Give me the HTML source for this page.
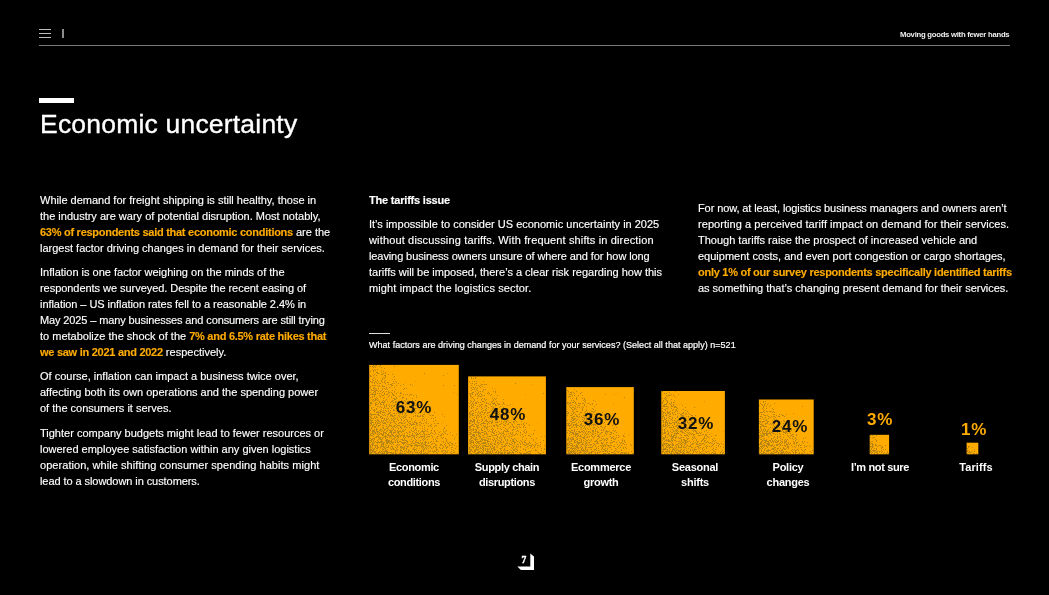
<!DOCTYPE html>
<html>
<head>
<meta charset="utf-8">
<style>
html,body{margin:0;padding:0;background:#000;}
body{width:1049px;height:595px;position:relative;overflow:hidden;font-family:"Liberation Sans",sans-serif;color:#fff;}
.abs{position:absolute;}
.runner,.title,.col,.q,.pct,.lab,svg{will-change:transform;}
.ham{position:absolute;left:39px;width:12px;height:1px;background:#bdbdbd;}
.hr{position:absolute;left:39px;top:45px;width:971px;height:1px;background:#7a7a7a;}
.runner{position:absolute;right:40px;top:28.8px;font-size:7.7px;font-weight:bold;letter-spacing:-0.25px;white-space:nowrap;line-height:12px;color:#f0f0f0;}
.tbar{position:absolute;left:39px;top:98px;width:35px;height:5px;background:#fff;}
.title{position:absolute;left:39.5px;top:106px;font-size:26.5px;letter-spacing:0.2px;-webkit-text-stroke:0.35px #fff;line-height:36px;white-space:nowrap;}
.col{position:absolute;-webkit-text-stroke:0.15px currentColor;font-size:11px;line-height:16px;white-space:nowrap;}
.col p{margin:0 0 8px 0;}
.o{color:#ffab00;font-weight:bold;letter-spacing:-0.27px;}
.h{font-weight:bold;letter-spacing:-0.2px;}
.q{position:absolute;left:369px;top:339px;font-size:9px;line-height:12px;white-space:nowrap;-webkit-text-stroke:0.2px #fff;letter-spacing:0.03px;}
.qline{position:absolute;left:369px;top:333px;width:21px;height:1px;background:#ddd;}
.bar{position:absolute;background:#ffab00;overflow:hidden;}
.pct{position:absolute;font-size:17px;font-weight:bold;letter-spacing:0.8px;line-height:20px;white-space:nowrap;text-align:center;width:80px;color:#111;}
.pcto{color:#ffab00;}
.lab{position:absolute;font-size:11px;font-weight:bold;letter-spacing:-0.4px;line-height:15px;white-space:nowrap;text-align:center;width:100px;}
</style>
</head>
<body>
<!-- header -->
<div class="ham" style="top:29px"></div>
<div class="ham" style="top:33px"></div>
<div class="ham" style="top:37px"></div>
<div class="abs" style="left:62px;top:28.6px;width:1.6px;height:9.4px;background:#8c8c8c"></div>
<div class="hr"></div>
<div class="runner">Moving goods with fewer hands</div>

<div class="tbar"></div>
<div class="title">Economic uncertainty</div>

<!-- left column -->
<div class="col" style="left:40px;top:192px">
<p>While demand for freight shipping is still healthy, those in<br>the industry are wary of potential disruption. Most notably,<br><span class="o">63% of respondents said that economic conditions</span> are the<br>largest factor driving changes in demand for their services.</p>
<p>Inflation is one factor weighing on the minds of the<br><span style="letter-spacing:-0.045px">respondents we surveyed. Despite the recent easing of</span><br><span style="letter-spacing:-0.06px">inflation – US inflation rates fell to a reasonable 2.4% in</span><br><span style="letter-spacing:-0.12px">May 2025 – many businesses and consumers are still trying</span><br>to metabolize the shock of the <span class="o">7% and 6.5% rate hikes that<br>we saw in 2021 and 2022</span> respectively.</p>
<p style="margin-bottom:9px">Of course, inflation can impact a business twice over,<br>affecting both its own operations and the spending power<br>of the consumers it serves.</p>
<p>Tighter company budgets might lead to fewer resources or<br>lowered employee satisfaction within any given logistics<br><span style="letter-spacing:0.055px">operation, while shifting consumer spending habits might</span><br><span style="letter-spacing:-0.07px">lead to a slowdown in customers.</span></p>
</div>

<!-- middle column -->
<div class="col" style="left:369px;top:192px">
<p class="h" style="margin-bottom:8px">The tariffs issue</p>
<p>It’s impossible to consider US economic uncertainty in 2025<br><span style="letter-spacing:0.15px">without discussing tariffs. With frequent shifts in direction</span><br><span style="letter-spacing:-0.1px">leaving business owners unsure of where and for how long</span><br>tariffs will be imposed, there’s a clear risk regarding how this<br><span style="letter-spacing:0.12px">might impact the logistics sector.</span></p>
</div>

<!-- right column -->
<div class="col" style="left:698px;top:200px">
<p><span style="letter-spacing:-0.1px">For now, at least, logistics business managers and owners aren’t</span><br><span style="letter-spacing:0.05px">reporting a perceived tariff impact on demand for their services.</span><br>Though tariffs raise the prospect of increased vehicle and<br>equipment costs, and even port congestion or cargo shortages,<br><span class="o">only 1% of our survey respondents specifically identified tariffs</span><br><span style="letter-spacing:-0.02px">as something that’s changing present demand for their services.</span></p>
</div>

<!-- chart -->
<div class="qline"></div>
<div class="q">What factors are driving changes in demand for your services? (Select all that apply) n=521</div>

<!--CHART-->
<svg class="abs" style="left:0;top:0" width="1049" height="595">
<defs><linearGradient id="g" x1="0" y1="1" x2="0.65" y2="0.35"><stop offset="0" stop-color="#000" stop-opacity="0.95"/><stop offset="0.4" stop-color="#000" stop-opacity="0.8"/><stop offset="0.77" stop-color="#000" stop-opacity="0.64"/><stop offset="1" stop-color="#000" stop-opacity="0.05"/></linearGradient>
<filter id="n" x="0" y="0" width="100%" height="100%" color-interpolation-filters="sRGB"><feTurbulence type="fractalNoise" baseFrequency="1.1" numOctaves="1" seed="7" result="t"/><feColorMatrix in="t" type="matrix" values="0 0 0 0 0  0 0 0 0 0  0 0 0 0 0  1 0 0 0 0" result="ta"/><feComposite in="ta" in2="SourceAlpha" operator="arithmetic" k1="0" k2="1" k3="0.3" k4="-0.76" result="c"/><feComponentTransfer in="c" result="th"><feFuncA type="linear" slope="40" intercept="0"/></feComponentTransfer><feFlood flood-color="#b78514"/><feComposite in2="th" operator="in"/></filter></defs>
<rect x="369.2" y="364.9" width="89.6" height="89.4" fill="#ffab00"/>
<rect x="370" y="365" width="88" height="89" fill="url(#g)" filter="url(#n)"/>
<rect x="468.1" y="376.4" width="77.8" height="77.9" fill="#ffab00"/>
<rect x="469" y="377" width="76" height="77" fill="url(#g)" filter="url(#n)"/>
<rect x="566.3" y="387.1" width="67.5" height="67.2" fill="#ffab00"/>
<rect x="567" y="388" width="66" height="66" fill="url(#g)" filter="url(#n)"/>
<rect x="661.3" y="391.0" width="63.6" height="63.3" fill="#ffab00"/>
<rect x="662" y="391" width="62" height="63" fill="url(#g)" filter="url(#n)"/>
<rect x="758.9" y="399.5" width="54.8" height="54.8" fill="#ffab00"/>
<rect x="759" y="400" width="54" height="54" fill="url(#g)" filter="url(#n)"/>
<rect x="869.7" y="434.8" width="19.4" height="19.5" fill="#ffab00"/>
<rect x="870" y="435" width="19" height="19" fill="url(#g)" filter="url(#n)"/>
<rect x="966.6" y="442.7" width="11.7" height="11.6" fill="#ffab00"/>
<rect x="967" y="443" width="11" height="11" fill="url(#g)" filter="url(#n)"/>
</svg>
<div class="pct" style="left:374.4px;top:397.5px">63%</div>
<div class="lab" style="left:364.0px;top:459.5px;letter-spacing:-0.35px">Economic<br>conditions</div>
<div class="pct" style="left:467.9px;top:404.5px">48%</div>
<div class="lab" style="left:457.0px;top:459.5px;letter-spacing:-0.35px">Supply chain<br>disruptions</div>
<div class="pct" style="left:561.9px;top:410.3px">36%</div>
<div class="lab" style="left:551.0px;top:459.5px;letter-spacing:-0.25px">Ecommerce<br>growth</div>
<div class="pct" style="left:655.8px;top:413.6px">32%</div>
<div class="lab" style="left:644.6px;top:459.5px;letter-spacing:-0.25px">Seasonal<br>shifts</div>
<div class="pct" style="left:750.0px;top:416.7px">24%</div>
<div class="lab" style="left:737.5px;top:459.5px;letter-spacing:-0.25px">Policy<br>changes</div>
<div class="pct pcto" style="left:840.1px;top:410.1px">3%</div>
<div class="lab" style="left:830.4px;top:459.5px;letter-spacing:-0.35px">I’m not sure</div>
<div class="pct pcto" style="left:933.9px;top:419.6px">1%</div>
<div class="lab" style="left:925.5px;top:459.5px;letter-spacing:0.1px">Tariffs</div>
<!--/CHART-->

<!-- page number -->
<svg class="abs" style="left:0;top:0" width="1049" height="595">
<polygon points="530.3,553.4 534,556.6 534,570 520.9,570 517.3,566.5 530.3,566.5" fill="#fff"/>
<text x="523.9" y="562.9" font-family="Liberation Serif" font-weight="bold" font-size="9.6" fill="#fff" stroke="#fff" stroke-width="0.4" text-anchor="middle">7</text>
</svg>
</body>
</html>
